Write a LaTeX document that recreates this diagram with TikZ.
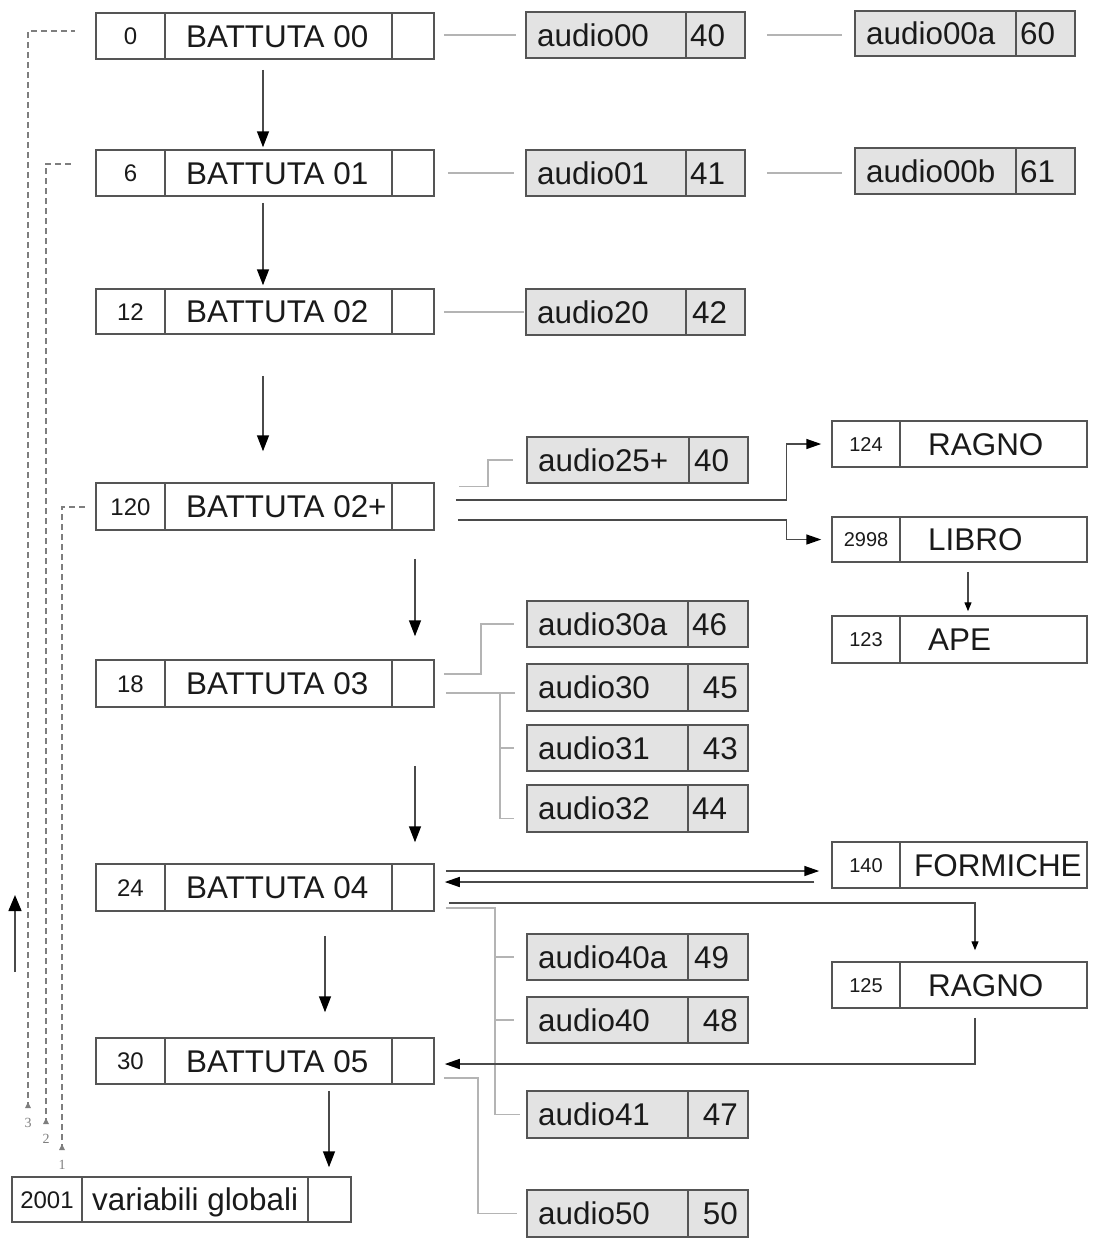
\documentclass[tikz,border=0pt]{standalone}
\usepackage{fontspec}
\setmainfont{Liberation Sans}
\newfontfamily\rkserif{Liberation Serif}
\usetikzlibrary{arrows.meta}
\definecolor{boxc}{HTML}{555555}
\definecolor{fillg}{HTML}{E3E3E3}
\definecolor{connc}{HTML}{B4B4B4}
\definecolor{arrc}{HTML}{4A4A4A}
\definecolor{dashc}{HTML}{7E7E7E}
\definecolor{txtc}{HTML}{1A1A1A}
\tikzset{
  wbox/.style={draw=boxc, line width=1.5pt, fill=white, inner sep=0pt, rectangle},
  gbox/.style={wbox, fill=fillg},
  divl/.style={draw=boxc, line width=1.5pt},
  big/.style={font=\fontsize{31.4}{36}\selectfont, text=txtc, inner sep=0pt, text height=22.4pt, text depth=0pt},
  nummid/.style={font=\fontsize{24}{28}\selectfont, text=txtc, inner sep=0pt, text height=17.2pt, text depth=0pt},
  numsm/.style={font=\fontsize{20}{24}\selectfont, text=txtc, inner sep=0pt, text height=14.3pt, text depth=0pt},
  lblsm/.style={font=\rkserif\fontsize{14}{16}\selectfont, text=dashc, inner sep=0pt},
  conn/.style={draw=connc, line width=1.5pt},
  dsh/.style={draw=dashc, line width=2pt, dash pattern=on 6pt off 4pt},
  arrL/.style={draw=arrc, line width=1.5pt, -{Triangle[length=16pt,width=12pt,color=black]}},
  arrM/.style={draw=arrc, line width=1.5pt, -{Triangle[length=15pt,width=10pt,color=black]}},
  arrS/.style={draw=arrc, line width=1.3pt, -{Triangle[length=9pt,width=7pt,color=black]}},
}
% generic box: style, name, xl, yt, xr, yb
\newcommand\rkbox[6]{%
  \pgfmathsetmacro\rkbw{#5-#3}\pgfmathsetmacro\rkbh{#6-#4}%
  \pgfmathsetmacro\rkbx{(#3+#5)/2}\pgfmathsetmacro\rkby{(#4+#6)/2}%
  \node[#1, minimum width=\rkbw pt, minimum height=\rkbh pt] (#2) at (\rkbx,\rkby) {};}
% battuta box: name, yt, yb, num, text
\newcommand\rkbat[5]{%
  \rkbox{wbox}{#1}{96}{#2}{434}{#3}%
  \draw[divl] (165,#2) -- (165,#3);%
  \draw[divl] (392,#2) -- (392,#3);%
  \node[nummid] (#1n) at (130.5,{(#2+#3)/2}) {#4};%
  \node[big, anchor=west] (#1t) at (186,{(#2+#3)/2}) {#5};}
% audio box: name, xl, yt, xr, yb, div, text
\newcommand\rkaud[7]{%
  \rkbox{gbox}{#1}{#2}{#3}{#4}{#5}%
  \draw[divl] (#6,#3) -- (#6,#5);%
  \node[big, anchor=west] (#1t) at ({#2+11},{(#3+#5)/2}) {#7};}
% right white box: name, yt, yb, num, text, textx
\newcommand\rkrb[6]{%
  \rkbox{wbox}{#1}{832}{#2}{1087}{#3}%
  \draw[divl] (900,#2) -- (900,#3);%
  \node[numsm] (#1n) at (866,{(#2+#3)/2}) {#4};%
  \node[big, anchor=west] (#1t) at (#6,{(#2+#3)/2}) {#5};}
\begin{document}
\begin{tikzpicture}[x=1pt,y=-1pt]
\useasboundingbox (0,0) rectangle (1097,1248);

% ---- main column
\rkbat{b0}{13}{59}{0}{BATTUTA 00}
\rkbat{b1}{150}{196}{6}{BATTUTA 01}
\rkbat{b2}{289}{334}{12}{BATTUTA 02}
\rkbat{b2p}{483}{530}{120}{BATTUTA 02+}
\rkbat{b3}{660}{707}{18}{BATTUTA 03}
\rkbat{b4}{864}{911}{24}{BATTUTA 04}
\rkbat{b5}{1038}{1084}{30}{BATTUTA 05}

\rkbox{wbox}{glob}{12}{1177}{351}{1222}
\draw[divl] (82,1177) -- (82,1222);
\draw[divl] (308,1177) -- (308,1222);
\node[nummid] (globn) at (47,1199.5) {2001};
\node[big, anchor=west] (globt) at (92,1199.5) {variabili globali};

% ---- audio boxes
\rkaud{a00}{526}{12}{745}{58}{686}{audio00}
\node[big, anchor=west] (a00n) at (690,35) {40};
\rkaud{a00a}{855}{11}{1075}{56}{1016}{audio00a}
\node[big, anchor=west] (a00an) at (1020,33.5) {60};
\rkaud{a01}{526}{150}{745}{196}{686}{audio01}
\node[big, anchor=west] (a01n) at (690,173) {41};
\rkaud{a00b}{855}{148}{1075}{194}{1016}{audio00b}
\node[big, anchor=west] (a00bn) at (1020,171) {61};
\rkaud{a20}{526}{289}{745}{335}{686}{audio20}
\node[big, anchor=west] (a20n) at (692,312) {42};
\rkaud{a25}{527}{437}{748}{483}{689}{audio25+}
\node[big, anchor=west] (a25n) at (694,460) {40};
\rkaud{a30a}{527}{601}{748}{647}{688}{audio30a}
\node[big, anchor=west] (a30an) at (692,624) {46};
\rkaud{a30}{527}{664}{748}{711}{688}{audio30}
\node[big, anchor=east] (a30n) at (738,687.5) {45};
\rkaud{a31}{527}{725}{748}{771}{688}{audio31}
\node[big, anchor=east] (a31n) at (738,748) {43};
\rkaud{a32}{527}{785}{748}{832}{688}{audio32}
\node[big, anchor=west] (a32n) at (692,808.5) {44};
\rkaud{a40a}{527}{934}{748}{980}{688}{audio40a}
\node[big, anchor=west] (a40an) at (694,957) {49};
\rkaud{a40}{527}{997}{748}{1043}{688}{audio40}
\node[big, anchor=east] (a40n) at (738,1020) {48};
\rkaud{a41}{527}{1091}{748}{1138}{688}{audio41}
\node[big, anchor=east] (a41n) at (738,1114.5) {47};
\rkaud{a50}{527}{1190}{748}{1237}{688}{audio50}
\node[big, anchor=east] (a50n) at (738,1213.5) {50};

% ---- right boxes
\rkrb{r124}{421}{467}{124}{RAGNO}{928}
\rkrb{r2998}{517}{562}{2998}{LIBRO}{928}
\rkrb{r123}{616}{663}{123}{APE}{928}
\rkrb{r140}{842}{888}{140}{FORMICHE}{914}
\rkrb{r125}{962}{1008}{125}{RAGNO}{928}

% ---- column coordinates
\coordinate (colA) at (263,0);
\coordinate (colB) at (415,0);
\coordinate (colC) at (325,0);
\coordinate (colD) at (329,0);
\coordinate (colE) at (968,0);
\coordinate (bus3) at (500,0);
\coordinate (bus4) at (495,0);
\coordinate (bus5) at (478,0);

% ---- vertical arrows
\draw[arrL, shorten <=10pt, shorten >=2pt] (b0.south -| colA) -- (b1.north -| colA);
\draw[arrL, shorten <=6pt, shorten >=3pt] (b1.south -| colA) -- (b2.north -| colA);
\draw[arrL, shorten <=41pt, shorten >=31pt] (b2.south -| colA) -- (b2p.north -| colA);
\draw[arrL, shorten <=28pt, shorten >=23pt] (b2p.south -| colB) -- (b3.north -| colB);
\draw[arrL, shorten <=58pt, shorten >=21pt] (b3.south -| colB) -- (b4.north -| colB);
\draw[arrL, shorten <=24pt, shorten >=25pt] (b4.south -| colC) -- (b5.north -| colC);
\draw[arrL, shorten <=6pt, shorten >=9pt] (b5.south -| colD) -- (glob.north -| colD);
\draw[arrS, shorten <=9pt, shorten >=4pt] (r2998.south -| colE) -- (r123.north -| colE);

% ---- grey links
\draw[conn, shorten <=9pt, shorten >=9pt] (b0.east |- a00.west) -- (a00.west);
\draw[conn, shorten <=21pt, shorten >=12pt] (a00.east) -- (a00.east -| a00a.west);
\draw[conn, shorten <=13pt, shorten >=11pt] (b1.east |- a01.west) -- (a01.west);
\draw[conn, shorten <=21pt, shorten >=12pt] (a01.east) -- (a01.east -| a00b.west);
\draw[conn, shorten <=9pt, shorten >=1pt] (b2.east |- a20.west) -- (a20.west);
\draw[conn] ([shift={(24,4)}]b2p.north east) -- ++(29,0) |- ([xshift=-13pt]a25.west);
\draw[conn] ([shift={(9,-9.5)}]b3.east) -- ++(37,0) |- ([xshift=-12pt]a30a.west);
\draw[conn, shorten >=11pt] ([shift={(11,9.5)}]b3.east) coordinate (s3) -- (s3 -| a30.west);
\draw[conn] (s3 -| bus3) |- ([shift={(-12,10)}]a32.west);
\draw[conn, shorten >=12pt] (a31.west -| bus3) -- (a31.west);
\draw[conn, shorten >=6pt] ([shift={(11,20.5)}]b4.east) -| (bus4 |- a41.west) -- (a41.west);
\draw[conn, shorten >=12pt] (a40a.west -| bus4) -- (a40a.west);
\draw[conn, shorten >=12pt] (a40.west -| bus4) -- (a40.west);
\draw[conn, shorten >=9pt] ([shift={(9,17)}]b5.east) -| (bus5 |- a50.west) -- (a50.west);

% ---- dark arrows
\draw[arrM, shorten >=10pt] ([shift={(21,-6.5)}]b2p.east) -| ([xshift=-45pt]r124.west) -- (r124.west);
\draw[arrM, shorten >=10pt] ([shift={(23,13.5)}]b2p.east) -| ([xshift=-45pt]r2998.west) -- (r2998.west);
\draw[arrM, shorten >=12pt] ([shift={(11,-16.5)}]b4.east) coordinate (u1) -- (u1 -| r140.west);
\draw[arrM, shorten >=10pt] ([shift={(-17,17)}]r140.west) coordinate (u2) -- (u2 -| b4.east);
\draw[arrS, shorten >=11pt] ([shift={(14,15.5)}]b4.east) -| ([xshift=15.5pt]r125.north);
\draw[arrM, shorten >=10pt] ([shift={(15.5,9)}]r125.south) |- ([shift={(0,3)}]b5.east);

% ---- dashed back links
\node[lblsm] (n3) at (28,1123) {3};
\node[lblsm] (n2) at (46,1139) {2};
\node[lblsm] (n1) at (62,1165) {1};
\draw[dsh] ([shift={(0,-15)}]n3.center) |- ([shift={(-20,-5)}]b0.west);
\draw[dsh] ([shift={(0,-15)}]n2.center) |- ([shift={(-23,-9.5)}]b1.west);
\draw[dsh] ([shift={(0,-15)}]n1.center) |- ([shift={(-10,0.5)}]b2p.west);
\fill[dashc] ([shift={(0,-21)}]n3.center) -- ([shift={(-3,-15)}]n3.center) -- ([shift={(3,-15)}]n3.center) -- cycle;
\fill[dashc] ([shift={(0,-21)}]n2.center) -- ([shift={(-3,-15)}]n2.center) -- ([shift={(3,-15)}]n2.center) -- cycle;
\fill[dashc] ([shift={(0,-21)}]n1.center) -- ([shift={(-3,-15)}]n1.center) -- ([shift={(3,-15)}]n1.center) -- cycle;

% ---- small up arrow at left
\coordinate (up1) at (15,972);
\coordinate (up2) at (15,895);
\draw[draw=arrc, line width=1.5pt, -{Triangle[length=16pt,width=13pt,color=black]}] (up1) -- (up2);
\end{tikzpicture}
\end{document}
